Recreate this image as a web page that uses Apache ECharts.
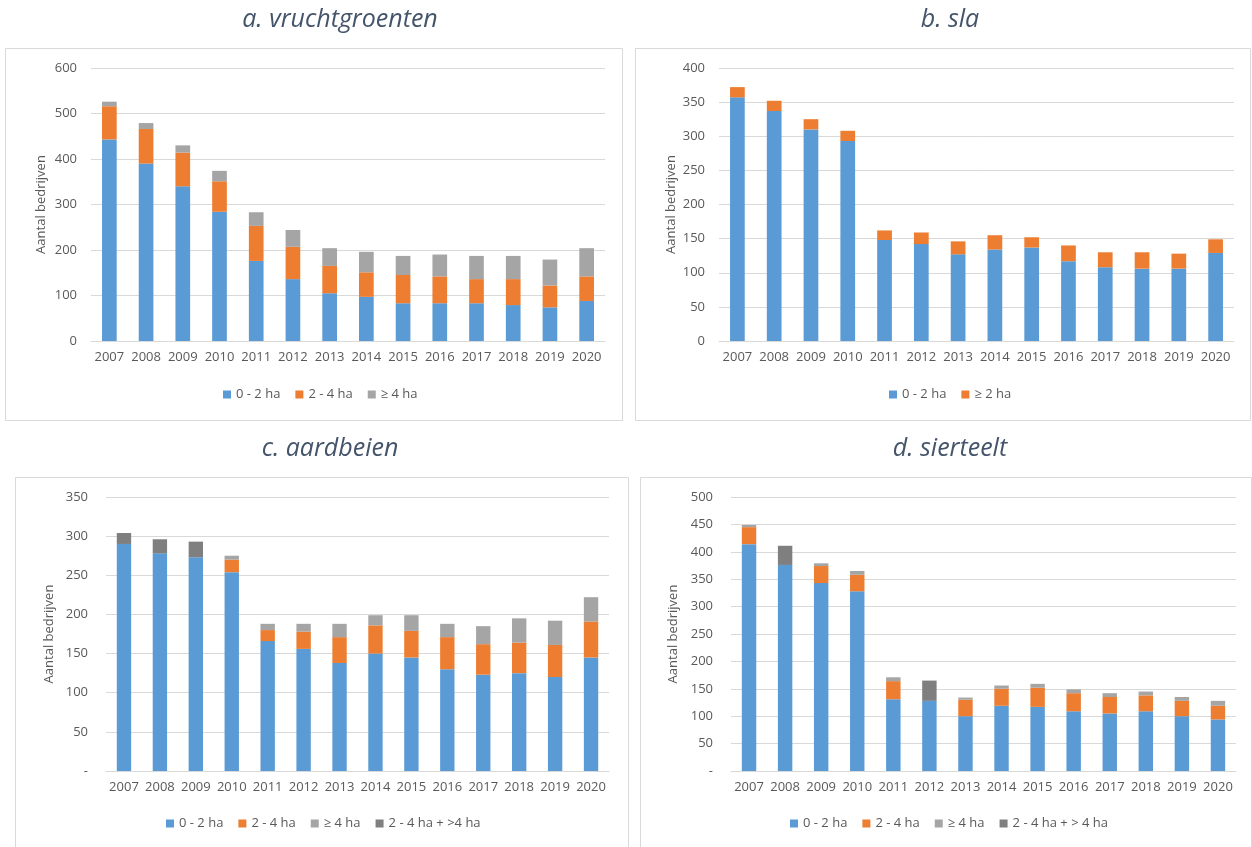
<!DOCTYPE html>
<html>
<head>
<meta charset="utf-8">
<script src="https://cdn.jsdelivr.net/npm/echarts@6/dist/echarts.min.js"></script>
<style>
  html, body { margin: 0; padding: 0; background: #fff; }
  #chart { width: 1252px; height: 847px; }
</style>
</head>
<body>
<div id="chart"></div>
<script>
// Jaren op de x-as (gelijk voor alle vier panelen)
const years = ['2007','2008','2009','2010','2011','2012','2013','2014','2015','2016','2017','2018','2019','2020'];

// a. vruchtgroenten
const vruchtSmall = [443, 390, 340, 284, 176, 136, 105, 97, 83, 83, 83, 79, 74, 88];
const vruchtMid   = [73, 76, 74, 67, 77, 71, 60, 54, 62, 59, 53, 57, 48, 54];
const vruchtLarge = [10, 13, 16, 23, 30, 37, 39, 45, 42, 48, 51, 51, 57, 62];

// b. sla
const slaSmall = [357, 337, 310, 293, 148, 142, 127, 134, 137, 117, 108, 106, 106, 129];
const slaLarge = [15, 15, 15, 15, 14, 17, 19, 21, 15, 23, 22, 24, 22, 20];

// c. aardbeien
const aardSmall    = [290, 278, 273, 254, 166, 156, 138, 150, 145, 130, 123, 125, 120, 145];
const aardMid      = [null, null, null, 16, 14, 22, 33, 36, 34, 41, 39, 39, 41, 46];
const aardLarge    = [null, null, null, 5, 8, 10, 17, 13, 20, 17, 23, 31, 31, 31];
const aardCombined = [14, 18, 20, null, null, null, null, null, null, null, null, null, null, null];

// d. sierteelt
const sierSmall    = [414, 376, 343, 328, 131, 128, 100, 119, 117, 109, 105, 109, 100, 94];
const sierMid      = [31, null, 31, 30, 33, null, 30, 31, 35, 33, 30, 29, 28, 25];
const sierLarge    = [4, null, 5, 7, 7, null, 4, 6, 7, 7, 7, 7, 7, 9];
const sierCombined = [null, 35, null, null, null, 37, null, null, null, null, null, null, null, null];

const FONT = 'Open Sans';
const C_BLUE = '#5B9BD5', C_ORANGE = '#ED7D31', C_GREY = '#A5A5A5', C_DARK = '#7F7F7F';
const LABEL = '#595959', GRID = '#D9D9D9';

const grids = [
  { left: 91,  top: 68,  width: 514, height: 273 },
  { left: 719, top: 68,  width: 515, height: 273 },
  { left: 106, top: 497, width: 503, height: 274 },
  { left: 731, top: 497, width: 505, height: 274 }
];

function xAxis(i) {
  return {
    type: 'category', gridIndex: i, data: years,
    axisLine: { lineStyle: { color: GRID } },
    axisTick: { show: false },
    axisLabel: { color: LABEL, fontFamily: FONT, fontSize: 13, margin: 10, interval: 0, hideOverlap: false }
  };
}
function yAxis(i, max, interval, nameGap, margin, dash) {
  return {
    type: 'value', gridIndex: i, min: 0, max: max, interval: interval,
    name: 'Aantal bedrijven', nameLocation: 'middle', nameGap: nameGap,
    nameTextStyle: { color: LABEL, fontFamily: FONT, fontSize: 13 },
    axisLine: { show: false }, axisTick: { show: false },
    splitLine: { lineStyle: { color: GRID } },
    axisLabel: {
      color: LABEL, fontFamily: FONT, fontSize: 13, margin: margin,
      formatter: v => (dash && v === 0) ? '-' : String(v)
    }
  };
}
function bars(name, data, color, i) {
  return {
    type: 'bar', name: name, data: data, stack: 'p' + i,
    xAxisIndex: i, yAxisIndex: i, barCategoryGap: '60%',
    itemStyle: { color: color }
  };
}
function legend(items, left, top) {
  return {
    data: items, top: top, left: left, orient: 'horizontal',
    icon: 'rect', itemWidth: 8, itemHeight: 8, itemGap: 15,
    textStyle: { color: LABEL, fontFamily: FONT, fontSize: 13 },
    selectedMode: false
  };
}
function title(text, x, y) {
  return {
    text: text, left: x, top: y, textAlign: 'center',
    textStyle: { color: '#44546A', fontFamily: FONT, fontStyle: 'italic', fontWeight: 'normal', fontSize: 25 }
  };
}
function frame(x, y, w, h) {
  return { type: 'rect', shape: { x: x + 0.5, y: y + 0.5, width: w, height: h }, style: { fill: null, stroke: GRID, lineWidth: 1 }, silent: true };
}

const chart = echarts.init(document.getElementById('chart'), null, { renderer: 'canvas' });

chart.setOption({
  animation: false,
  backgroundColor: '#fff',
  title: [
    title('a. vruchtgroenten', 335, 2),
    title('b. sla', 945, 2),
    title('c. aardbeien', 325, 431),
    title('d. sierteelt', 945, 431)
  ],
  graphic: [
    frame(5, 48, 617, 372),
    frame(635, 48, 615, 372),
    frame(15, 477, 613, 380),
    frame(640, 477, 611, 380)
  ],
  legend: [
    legend(['0 - 2 ha', '2 - 4 ha', '≥ 4 ha'], 218, 383),
    legend(['0 - 2 ha', '≥ 2 ha'], 884, 383),
    legend(['0 - 2 ha', '2 - 4 ha', '≥ 4 ha', '2 - 4 ha + >4 ha'], 161, 812),
    legend(['0 - 2 ha', '2 - 4 ha', '≥ 4 ha', '2 - 4 ha + > 4 ha'], 785, 812)
  ],
  grid: grids,
  xAxis: [xAxis(0), xAxis(1), xAxis(2), xAxis(3)],
  yAxis: [
    yAxis(0, 600, 100, 43, 14, false),
    yAxis(1, 400, 50, 41, 14, false),
    yAxis(2, 350, 50, 50, 18, true),
    yAxis(3, 500, 50, 51, 18, true)
  ],
  series: [
    bars('0 - 2 ha', vruchtSmall, C_BLUE, 0),
    bars('2 - 4 ha', vruchtMid, C_ORANGE, 0),
    bars('≥ 4 ha', vruchtLarge, C_GREY, 0),

    bars('0 - 2 ha', slaSmall, C_BLUE, 1),
    bars('≥ 2 ha', slaLarge, C_ORANGE, 1),

    bars('0 - 2 ha', aardSmall, C_BLUE, 2),
    bars('2 - 4 ha', aardMid, C_ORANGE, 2),
    bars('≥ 4 ha', aardLarge, C_GREY, 2),
    bars('2 - 4 ha + >4 ha', aardCombined, C_DARK, 2),

    bars('0 - 2 ha', sierSmall, C_BLUE, 3),
    bars('2 - 4 ha', sierMid, C_ORANGE, 3),
    bars('≥ 4 ha', sierLarge, C_GREY, 3),
    bars('2 - 4 ha + > 4 ha', sierCombined, C_DARK, 3)
  ]
});
</script>
</body>
</html>
